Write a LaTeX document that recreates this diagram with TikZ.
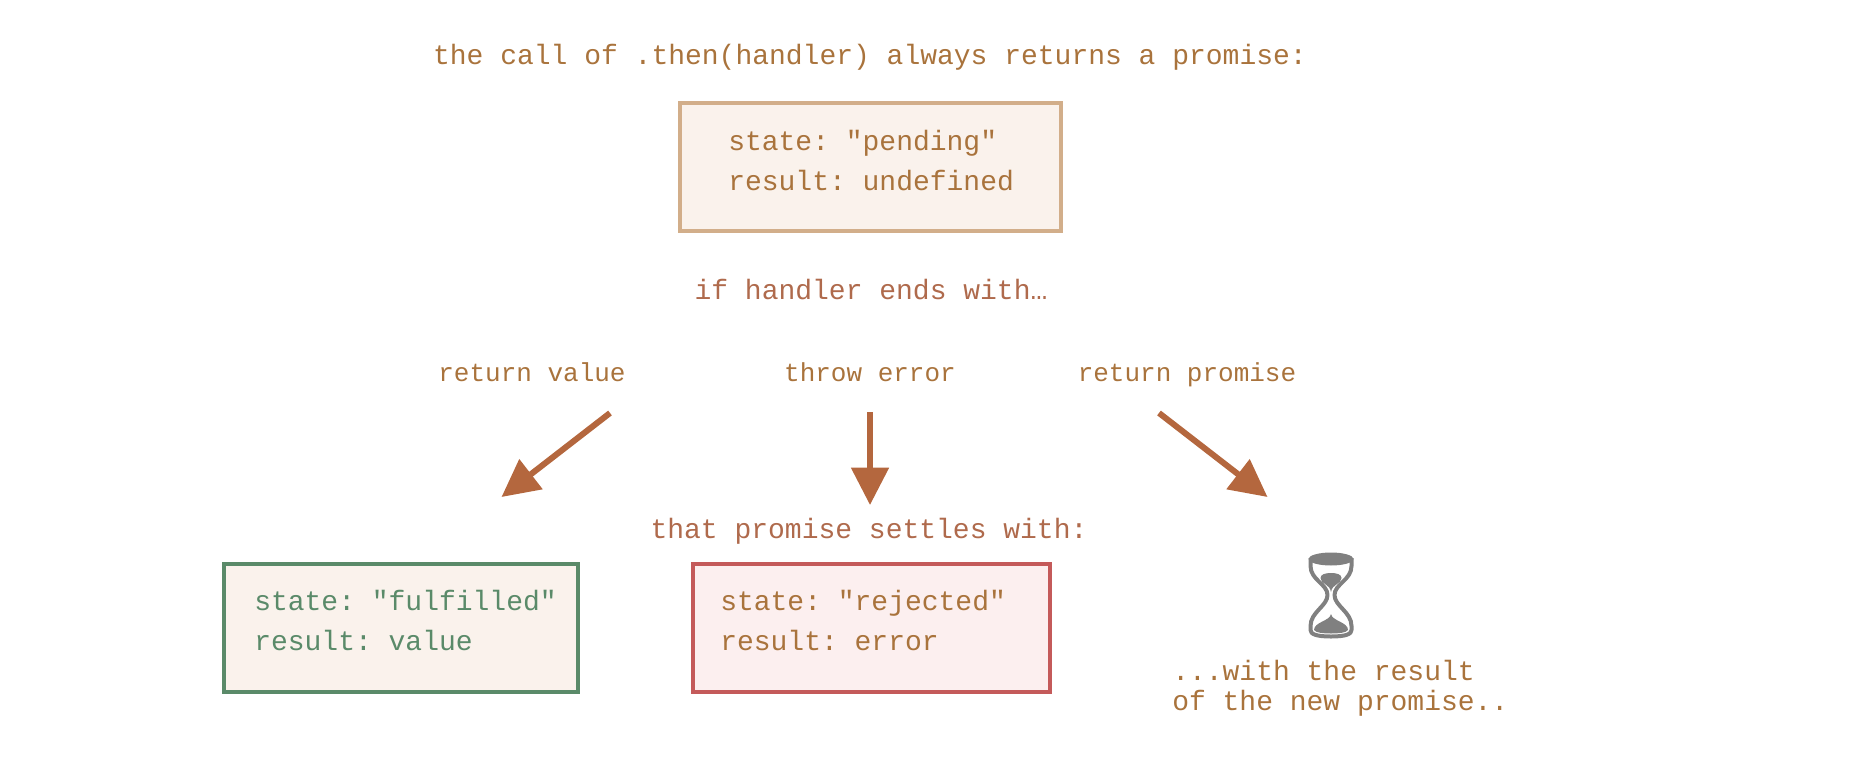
\documentclass[tikz,border=0pt]{standalone}
\usepackage{fontspec}
\setmonofont{Liberation Mono}
\usetikzlibrary{positioning, arrows.meta, calc}
\definecolor{textbrown}{HTML}{A9733C}
\definecolor{textred}{HTML}{AF6A4C}
\definecolor{arrowbrown}{HTML}{B4673E}
\definecolor{pendline}{HTML}{D2AE8A}
\definecolor{pendfill}{HTML}{FAF2EC}
\definecolor{okline}{HTML}{5A8A69}
\definecolor{oktext}{HTML}{5A8A69}
\definecolor{badline}{HTML}{C45A5A}
\definecolor{badfill}{HTML}{FCEFEF}
\definecolor{glass}{HTML}{808080}
\begin{document}
\begin{tikzpicture}[
    x=0.75pt,
    y=-0.75pt,
    label/.style={
        font=\ttfamily\fontsize{21}{25}\selectfont,
        text=textbrown,
        inner sep=0pt
    },
    small/.style={
        label,
        anchor=base,
        font=\ttfamily\fontsize{19.5}{28}\selectfont
    },
    statelines/.style={
        label,
        anchor=north west,
        align=left,
        font=\ttfamily\fontsize{21}{30}\selectfont
    },
    state/.style={
        rectangle,
        draw,
        line width=3pt,
        fill=pendfill,
        minimum height=96pt,
        inner sep=0pt
    },
    arrow/.style={
        -{Triangle[length=28pt,width=27.5pt]},
        line width=4.5pt,
        draw=arrowbrown
    },
    glassline/.style={
        draw=glass,
        line width=3pt,
        line join=round
    }
]
    \useasboundingbox (0,0) rectangle (1872,756);

    % Top box
    \node[label] (title) at (870,57) {the call of .then(handler) always returns a promise:};
    \node[state, draw=pendline, minimum width=285.75pt] (pending) at (870.5,167) {};
    \node[statelines] (pendingtext) at (728,130) {state: "pending"\\result: undefined};

    \node[label, text=textred] (ends) at (871,290) {if handler ends with…};

    % Three outcomes
    \node[small] (retvalue) at (532,381.5) {return value};
    \node[small] (throwerr) at (870,381.5) {throw error};
    \node[small] (retpromise) at (1187,381.5) {return promise};

    \coordinate (a1) at (610,413);
    \coordinate (b1) at (501.5,497);
    \coordinate (a2) at (870,412);
    \coordinate (b2) at (870,505);
    \coordinate (a3) at (1159,413);
    \coordinate (b3) at (1267.5,497);
    \draw[arrow] (a1) -- (b1);
    \draw[arrow] (a2) -- (b2);
    \draw[arrow] (a3) -- (b3);

    \node[label, text=textred] (settles) at (869,531) {that promise settles with:};

    % Result boxes
    \node[state, draw=okline, minimum width=265.5pt] (fulfilled) at (401,628) {};
    \node[statelines, text=oktext] (fulfilledtext) at (254,590) {state: "fulfilled"\\result: value};
    \node[state, draw=badline, fill=badfill, minimum width=268pt] (rejected) at (871.5,628) {};
    \node[statelines] (rejectedtext) at (720,590) {state: "rejected"\\result: error};

    % Hourglass
    \draw[glassline] (1310.5,558) -- (1310.5,566)
        .. controls (1310.5,580) and (1327.5,584) .. (1327.5,595)
        .. controls (1327.5,606) and (1310.5,612) .. (1310.5,626)
        -- (1310.5,630)
        .. controls (1310.5,634) and (1316,636.5) .. (1331,636.5)
        .. controls (1346,636.5) and (1351.5,634) .. (1351.5,630)
        -- (1351.5,626)
        .. controls (1351.5,612) and (1334.5,606) .. (1334.5,595)
        .. controls (1334.5,584) and (1351.5,580) .. (1351.5,566)
        -- (1351.5,558);
    \fill[glass] (1331,559) ellipse (22.5 and 6.5);
    \fill[glass] (1331,592) .. controls (1330,584) and (1320.5,584) .. (1320.5,578)
        .. controls (1320.5,574.5) and (1325,573) .. (1331,573)
        .. controls (1337,573) and (1341.5,574.5) .. (1341.5,578)
        .. controls (1341.5,584) and (1332,584) .. (1331,592) -- cycle;
    \fill[glass] (1331,614) .. controls (1330,621) and (1314,622) .. (1314,630)
        .. controls (1316,633) and (1324,633.5) .. (1331,633.5)
        .. controls (1338,633.5) and (1346,633) .. (1348,630)
        .. controls (1348,622) and (1332,621) .. (1331,614) -- cycle;

    \node[label, anchor=north west, align=left, font=\ttfamily\fontsize{21}{22.5}\selectfont] (result) at (1172,660) {...with the result\\of the new promise..};
\end{tikzpicture}
\end{document}
